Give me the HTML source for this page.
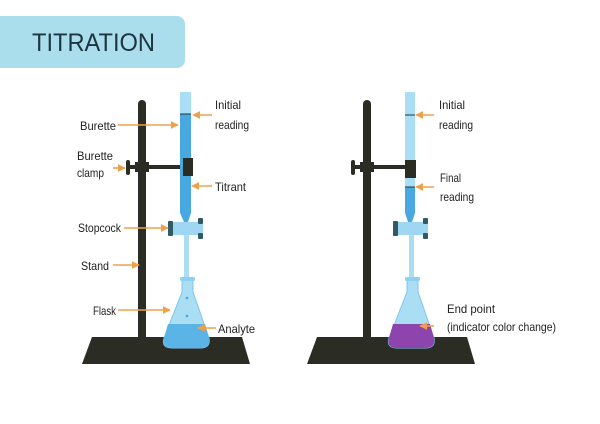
<!DOCTYPE html>
<html><head><meta charset="utf-8"><style>
html,body{margin:0;padding:0;background:#fff;}
svg{display:block}
text{font-family:"Liberation Sans Narrow","Liberation Sans",sans-serif;font-size:12px;fill:#222;}
</style></head><body>
<svg width="600" height="424" viewBox="0 0 600 424" xmlns="http://www.w3.org/2000/svg">
<defs>
<marker id="ah" viewBox="0 0 10 10" refX="9" refY="5" markerWidth="5" markerHeight="5" orient="auto"><path d="M0,0 L10,5 L0,10 z" fill="#f0a04a"/></marker>
<g id="rig">
  <path d="M92,337 L242,337 L250,364 L82,364 Z" fill="#2b2d24"/>
  <rect x="138" y="100" width="8" height="245" rx="4" fill="#2b2d24"/>
  <rect x="130" y="165" width="54" height="4" fill="#2b2d24"/>
  <rect x="126" y="160" width="4" height="15" rx="2" fill="#2b2d24"/>
  <rect x="135" y="162" width="14" height="10" fill="#2b2d24"/>
  <rect x="170" y="222" width="33" height="13" rx="3" fill="#9fd6f2"/>
  <rect x="168" y="221" width="5" height="15" rx="1" fill="#2f5a66"/>
  <rect x="198" y="218" width="5" height="6" rx="1" fill="#2f5a66"/>
  <rect x="198" y="233" width="5" height="6" rx="1" fill="#2f5a66"/>
  <rect x="184" y="235" width="5" height="42" fill="#a9def5"/>
  <path d="M182,280 L193,280 L193,292 L209,338 Q211,348 200,348 L172,348 Q161,348 164,338 L182,292 Z" fill="#a9def5" stroke="#7cc7ee" stroke-width="1"/>
  <rect x="180" y="277" width="15" height="4" rx="1.5" fill="#8fd0f0"/>
</g>
</defs>

<rect x="-10" y="16" width="195" height="52" rx="8" fill="#abdeec"/>
<text x="32" y="51" style="font-family:'Liberation Sans',sans-serif;font-size:25px;fill:#1d3540" textLength="123" lengthAdjust="spacingAndGlyphs">TITRATION</text>

<use href="#rig"/>
<rect x="180" y="92" width="11" height="121" fill="#a9def5"/>
<rect x="180" y="114" width="11" height="99" fill="#4aa8e0"/>
<line x1="180" y1="114" x2="191" y2="114" stroke="#1d3540" stroke-width="1"/>
<path d="M180,213 L191,213 L188,222 L184,222 Z" fill="#4aa8e0"/>
<rect x="183" y="158" width="10" height="18" fill="#2b2d24"/>
<path d="M168,324 L205,324 L209,338 Q211,348 200,348 L172,348 Q161,348 164,338 Z" fill="#5bb4e6"/>
<circle cx="187" cy="298" r="1.3" fill="#4aa8e0"/><circle cx="187" cy="316" r="1.3" fill="#4aa8e0"/>

<use href="#rig" transform="translate(225,0)"/>
<rect x="405" y="92" width="10" height="121" fill="#a9def5"/>
<rect x="405" y="187" width="10" height="26" fill="#4aa8e0"/>
<line x1="405" y1="187" x2="415" y2="187" stroke="#1d3540" stroke-width="1"/>
<line x1="405" y1="115" x2="415" y2="115" stroke="#1d3540" stroke-width="1"/>
<path d="M405,213 L415,213 L412,222 L408,222 Z" fill="#4aa8e0"/>
<rect x="405" y="160" width="11" height="18" fill="#2b2d24"/>
<path d="M393,324 L430,324 L434,338 Q436,348 425,348 L397,348 Q386,348 389,338 Z" fill="#8e44ad"/>

<g stroke="#f0a04a" stroke-width="1.6" marker-end="url(#ah)">
<line x1="118" y1="125" x2="178" y2="125"/>
<line x1="212" y1="115" x2="193" y2="115"/>
<line x1="113" y1="168" x2="125" y2="168"/>
<line x1="212" y1="186" x2="192" y2="186"/>
<line x1="124" y1="228" x2="168" y2="228"/>
<line x1="113" y1="265" x2="139" y2="265"/>
<line x1="118" y1="310" x2="170" y2="310"/>
<line x1="216" y1="328" x2="198" y2="328"/>
<line x1="434" y1="115" x2="416" y2="115"/>
<line x1="434" y1="187" x2="416" y2="187"/>
<line x1="434" y1="326" x2="420" y2="326"/>
</g>

<g lengthAdjust="spacingAndGlyphs">
<text x="80" y="130" textLength="36" lengthAdjust="spacingAndGlyphs">Burette</text>
<text x="215" y="109" textLength="26" lengthAdjust="spacingAndGlyphs">Initial</text>
<text x="215" y="129" textLength="34" lengthAdjust="spacingAndGlyphs">reading</text>
<text x="77" y="160" textLength="36" lengthAdjust="spacingAndGlyphs">Burette</text>
<text x="77" y="177" textLength="27" lengthAdjust="spacingAndGlyphs">clamp</text>
<text x="215" y="191" textLength="31" lengthAdjust="spacingAndGlyphs">Titrant</text>
<text x="78" y="232" textLength="43" lengthAdjust="spacingAndGlyphs">Stopcock</text>
<text x="81" y="270" textLength="28" lengthAdjust="spacingAndGlyphs">Stand</text>
<text x="93" y="315" textLength="23" lengthAdjust="spacingAndGlyphs">Flask</text>
<text x="218" y="333" textLength="37" lengthAdjust="spacingAndGlyphs">Analyte</text>
<text x="439" y="109" textLength="26" lengthAdjust="spacingAndGlyphs">Initial</text>
<text x="439" y="129" textLength="34" lengthAdjust="spacingAndGlyphs">reading</text>
<text x="440" y="182" textLength="21" lengthAdjust="spacingAndGlyphs">Final</text>
<text x="440" y="201" textLength="34" lengthAdjust="spacingAndGlyphs">reading</text>
<text x="447" y="313" textLength="48" lengthAdjust="spacingAndGlyphs">End point</text>
<text x="447" y="331" textLength="109" lengthAdjust="spacingAndGlyphs">(indicator color change)</text>
</g>
</svg>
</body></html>
